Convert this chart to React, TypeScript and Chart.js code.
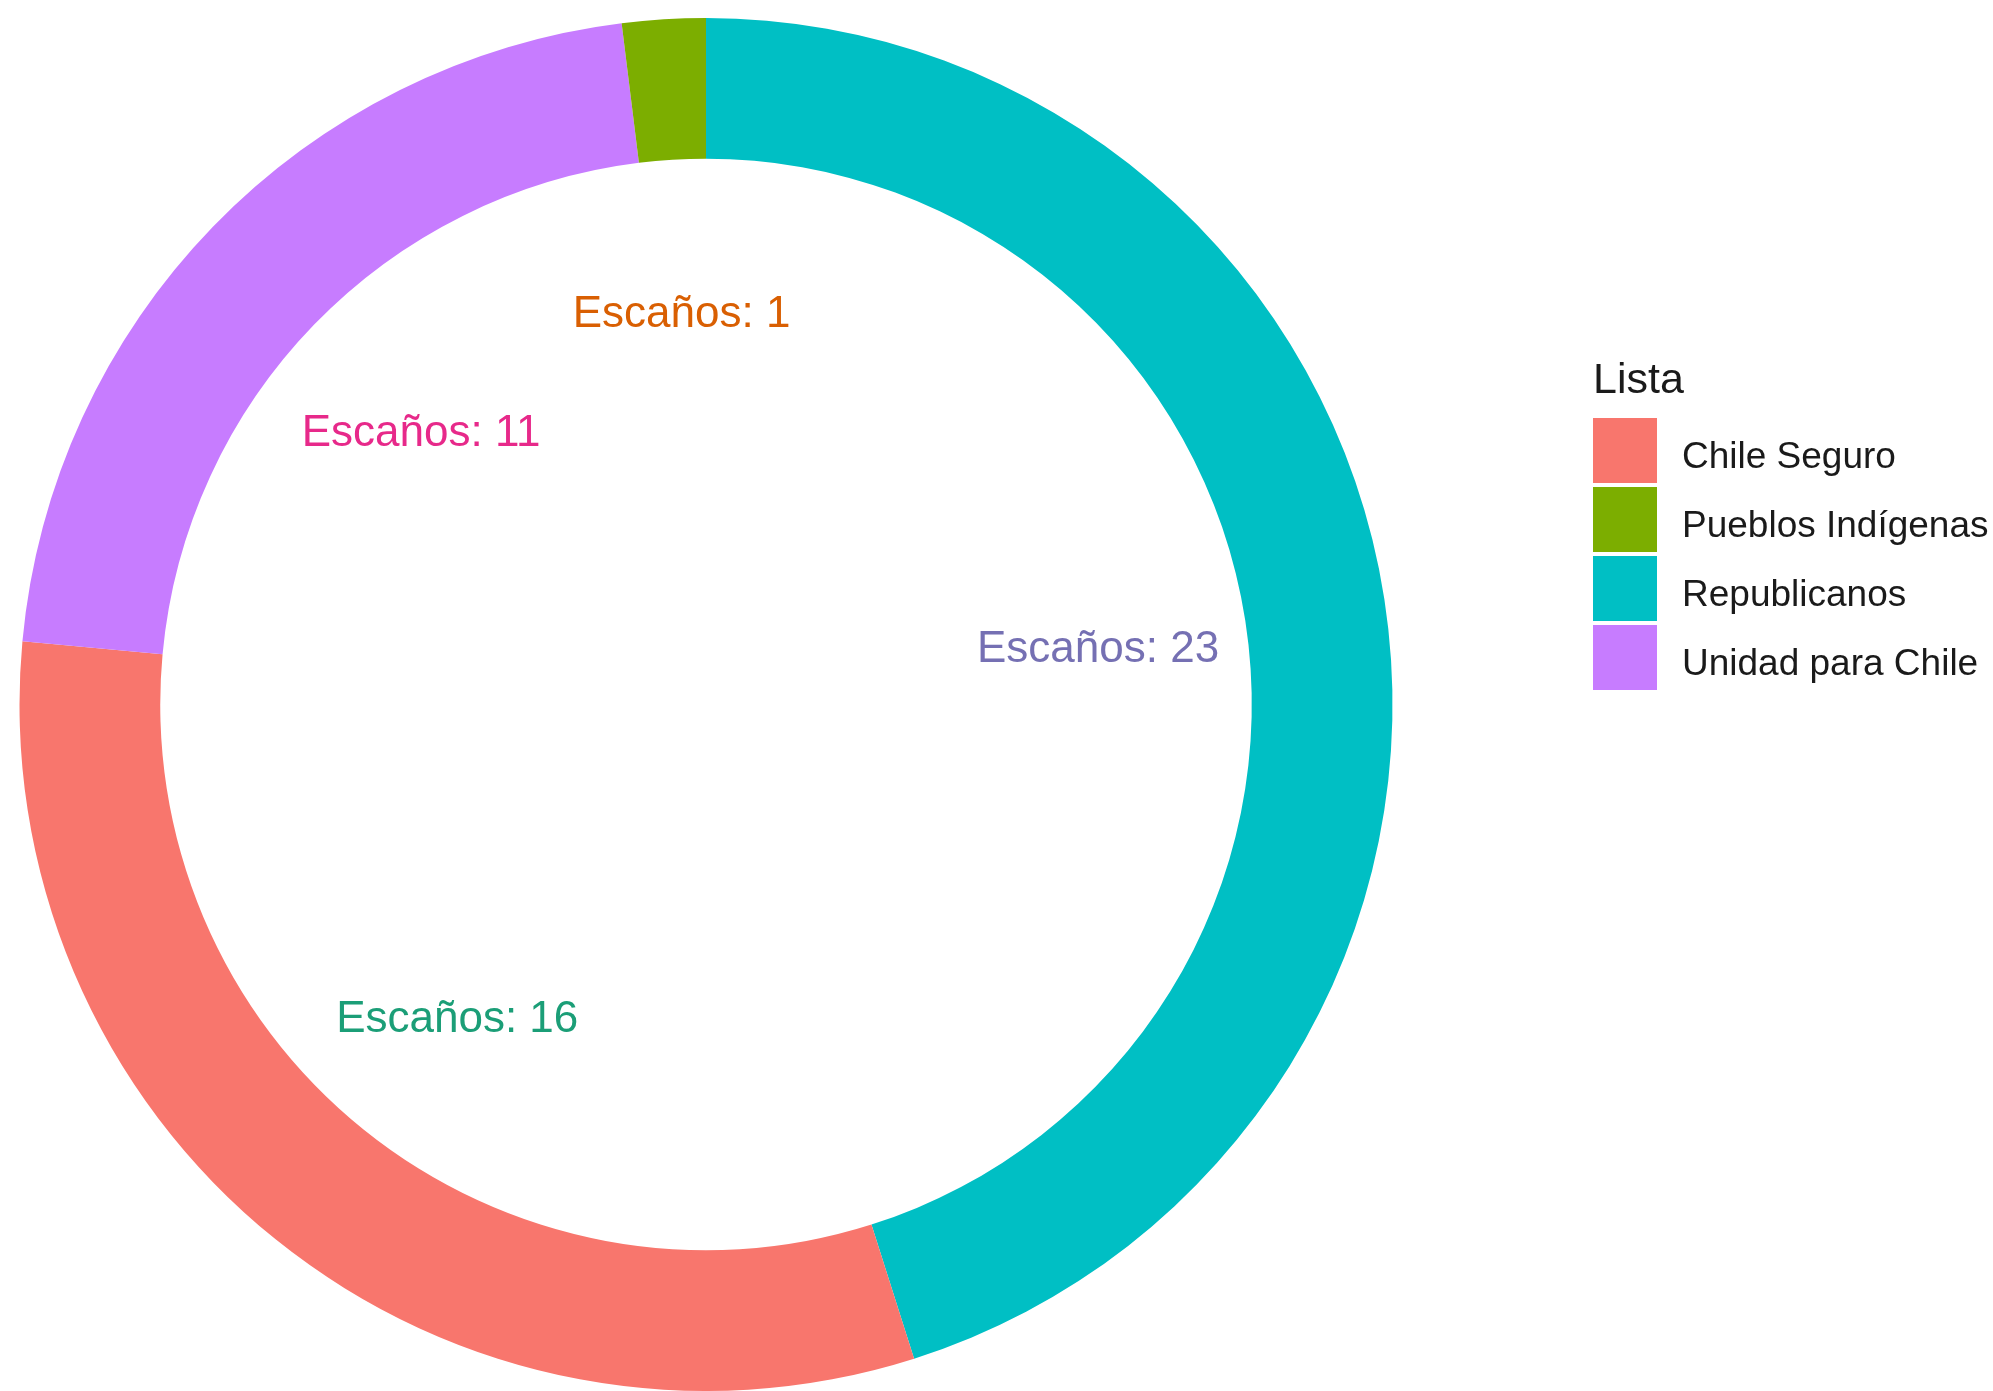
import React, { useEffect, useRef } from "react";
import { Chart, registerables } from "chart.js";

Chart.register(...registerables);

// Drawing order (clockwise from the top)
const sliceNames = ["Republicanos", "Chile Seguro", "Unidad para Chile", "Pueblos Indígenas"];
const seats = [23, 16, 11, 1];
const sliceColors = ["#00BFC4", "#F8766D", "#C77CFF", "#7CAE00"];
const labelColors = ["#7570B3", "#1B9E77", "#E7298A", "#D95F02"];
const labelPrefix = "Escaños: ";

// Legend (alphabetical, as in the reference)
const legendTitle = "Lista";
const legendNames = ["Chile Seguro", "Pueblos Indígenas", "Republicanos", "Unidad para Chile"];

const FONT = "'Liberation Sans', Arial, sans-serif";

const labelPlugin = {
  id: "sliceLabels",
  afterDatasetsDraw(chart: any) {
    const ctx = chart.ctx;
    const meta = chart.getDatasetMeta(0);
    ctx.save();
    ctx.font = `44px ${FONT}`;
    ctx.textAlign = "center";
    ctx.textBaseline = "middle";
    meta.data.forEach((arc: any, i: number) => {
      const p = arc.getProps(["x", "y", "startAngle", "endAngle", "outerRadius"], true);
      const mid = (p.startAngle + p.endAngle) / 2;
      const r = p.outerRadius * 0.578;
      const x = p.x + Math.cos(mid) * r;
      const y = p.y + Math.sin(mid) * r + 6;
      ctx.fillStyle = labelColors[i];
      ctx.fillText(labelPrefix + seats[i], x, y);
    });
    ctx.restore();
  },
};

const legendPlugin = {
  id: "customLegend",
  afterDraw(chart: any) {
    const ctx = chart.ctx;
    ctx.save();
    const x0 = 1593;
    ctx.fillStyle = "#1a1a1a";
    ctx.textAlign = "left";
    ctx.textBaseline = "alphabetic";
    ctx.font = `43px ${FONT}`;
    ctx.fillText(legendTitle, x0, 393);
    ctx.font = `37px ${FONT}`;
    const top = 418;
    const pitch = 69;
    legendNames.forEach((name, i) => {
      const idx = sliceNames.indexOf(name);
      const y = top + i * pitch;
      ctx.fillStyle = sliceColors[idx];
      ctx.fillRect(x0, y, 64, 65);
      ctx.fillStyle = "#1a1a1a";
      ctx.textBaseline = "middle";
      ctx.fillText(name, 1682, y + 40);
    });
    ctx.restore();
  },
};

export default function App() {
  const ref = useRef<HTMLCanvasElement | null>(null);
  useEffect(() => {
    if (!ref.current) return;
    const chart = new Chart(ref.current, {
      type: "doughnut",
      data: {
        labels: sliceNames,
        datasets: [
          {
            data: seats,
            backgroundColor: sliceColors,
            borderWidth: 0,
          },
        ],
      },
      options: {
        responsive: false,
        animation: false,
        cutout: "79.5%",
        layout: { padding: { left: 19, top: 18, right: 600, bottom: 0 } },
        plugins: {
          legend: { display: false },
          tooltip: { enabled: false },
        },
      },
      plugins: [labelPlugin, legendPlugin],
    } as any);
    return () => chart.destroy();
  }, []);
  return (
    <div style={{ position: "fixed", left: 0, top: 0, width: 1993, height: 1391, background: "#fff" }}>
      <canvas ref={ref} width={1993} height={1391} style={{ width: 1993, height: 1391 }} />
    </div>
  );
}
